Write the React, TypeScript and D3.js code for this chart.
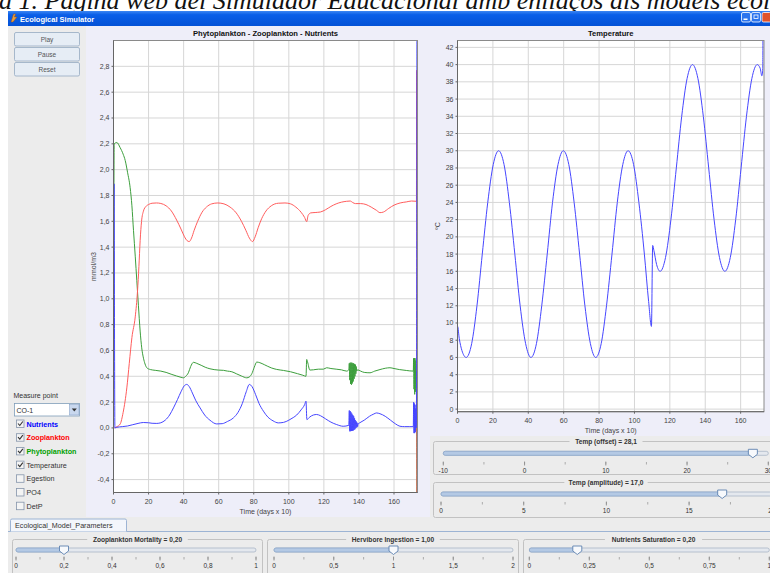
import React, { useMemo } from "react";
import * as d3 from "d3";

type Pt = [number, number];

// ---- data (time in days x 10) ----
const nutrients: Pt[] = [
  [0, 0.0], [0.3, 1.89], [0.8, 0.0], [1.9, 0.005], [5, 0.01], [8, 0.015], [11, 0.025], [14, 0.035],
  [17, 0.042], [20, 0.04], [22, 0.036], [24.7, 0.035], [27, 0.04], [29.5, 0.06], [32, 0.1], [34.2, 0.155],
  [36.5, 0.22], [38.5, 0.28], [40.3, 0.325], [41.8, 0.337], [43.2, 0.32], [45, 0.27], [47, 0.21],
  [49.4, 0.155], [52, 0.1], [55, 0.06], [58.9, 0.031], [62, 0.033], [65, 0.05], [68.4, 0.078], [71, 0.12],
  [73.5, 0.19], [75.7, 0.28], [77.5, 0.337], [79, 0.32], [81, 0.26], [83, 0.19], [85.5, 0.13], [88, 0.085],
  [91, 0.055], [94, 0.039], [97, 0.043], [100, 0.06], [102.5, 0.08], [104.5, 0.1], [107, 0.14], [109, 0.18],
  [109.8, 0.207], [110.3, 0.065], [112, 0.085], [114, 0.1], [115.9, 0.104], [118, 0.095], [121, 0.07],
  [124, 0.045], [127.3, 0.026], [131, 0.013], [134.2, 0.02],
  [134.5, 0.135], [134.75, -0.026], [135.0, 0.13], [135.25, -0.025], [135.5, 0.12], [135.75, -0.024],
  [136.0, 0.11], [136.25, -0.022], [136.5, 0.1], [136.75, -0.02], [137.0, 0.09], [137.25, -0.015],
  [137.5, 0.075], [137.75, -0.01], [138.0, 0.06], [138.25, 0.0], [138.5, 0.05], [138.75, 0.005],
  [139.0, 0.04], [139.25, 0.01], [139.5, 0.03],
  [140.5, 0.04], [143, 0.06], [146, 0.09], [148.5, 0.108], [150, 0.116], [152, 0.11], [155, 0.09],
  [158, 0.06], [161, 0.03], [163.4, 0.013], [166, 0.01], [169, 0.01], [171.0, 0.01],
  [171.2, 0.2], [171.4, -0.04], [171.6, 0.19], [171.8, -0.04], [172.0, 0.18], [172.2, -0.03],
  [172.4, 0.15], [172.6, 0.0], [172.8, 0.02], [173.2, 3.0], [173.4, -0.5],
];

const zooplankton: Pt[] = [
  [0.5, 0.0], [2, 0.01], [3.8, 0.03], [5.5, 0.12], [7.6, 0.31], [9, 0.5], [10.5, 0.7], [12.4, 0.86],
  [13.7, 1.06], [14.5, 1.25], [15.2, 1.45], [16, 1.6], [17.1, 1.68], [18.5, 1.715], [20, 1.73], [22, 1.74],
  [24.5, 1.742], [27, 1.738], [30, 1.72], [33, 1.68], [36, 1.61], [38.5, 1.54], [40.5, 1.48], [42, 1.45],
  [43.2, 1.443], [44.5, 1.47], [46, 1.53], [48, 1.6], [50.5, 1.67], [53, 1.71], [56, 1.735], [59.5, 1.742],
  [63, 1.735], [66.5, 1.71], [70, 1.665], [73, 1.6], [75.5, 1.53], [77.5, 1.47], [79.3, 1.443], [80.8, 1.48],
  [82.5, 1.55], [84.5, 1.62], [87, 1.68], [90, 1.72], [94, 1.74], [97.8, 1.742], [101, 1.735], [104, 1.71],
  [107, 1.67], [109, 1.63], [110.2, 1.597], [111, 1.645], [112.5, 1.665], [115, 1.668], [118, 1.672],
  [121, 1.69], [124, 1.715], [127, 1.735], [130, 1.748], [133, 1.755], [135, 1.757], [136.5, 1.745],
  [138, 1.737], [141, 1.737], [144, 1.73], [147, 1.71], [150, 1.685], [152, 1.667], [154, 1.672],
  [157, 1.7], [160, 1.725], [163.5, 1.742], [167, 1.75], [170, 1.757], [172.8, 1.755], [172.9, 2.77],
  [173.05, -0.5],
];

const phytoplankton: Pt[] = [
  [0, 0.31], [0.4, 2.2], [1.9, 2.21], [3.8, 2.17], [5.5, 2.12], [6.7, 2.07], [8, 1.98], [9.5, 1.86],
  [10.5, 1.72], [11.4, 1.53], [12.4, 1.33], [13.3, 1.14], [14.2, 0.95], [15.2, 0.75], [16.1, 0.62],
  [17.1, 0.54], [18, 0.495], [19, 0.466], [21, 0.452], [23.8, 0.446], [27, 0.44], [30, 0.43], [33.3, 0.414],
  [36, 0.402], [38.5, 0.392], [39.9, 0.388], [41.2, 0.4], [42.7, 0.427], [44, 0.475], [45.6, 0.508],
  [47.5, 0.5], [50, 0.485], [52.3, 0.47], [55, 0.458], [59.8, 0.448], [62.7, 0.446], [65, 0.44],
  [67.5, 0.435], [70, 0.42], [73, 0.402], [76, 0.388], [77.5, 0.395], [78.9, 0.42], [80.3, 0.47],
  [81.7, 0.51], [83.5, 0.505], [86, 0.49], [90, 0.465], [93.1, 0.453], [97, 0.445], [101, 0.435],
  [105, 0.42], [108, 0.408], [109.8, 0.4], [110.2, 0.53], [110.7, 0.51], [112, 0.448], [114, 0.45],
  [117, 0.455], [119.7, 0.455], [121.6, 0.466], [124, 0.46], [127, 0.455], [130, 0.45], [133, 0.44],
  [134.2, 0.45],
  [134.5, 0.5], [134.75, 0.37], [135.0, 0.505], [135.25, 0.34], [135.5, 0.505], [135.75, 0.335],
  [136.0, 0.505], [136.25, 0.345], [136.5, 0.5], [136.75, 0.36], [137.0, 0.5], [137.25, 0.38],
  [137.5, 0.495], [137.75, 0.4], [138.0, 0.49], [138.25, 0.42], [138.5, 0.475], [138.75, 0.44],
  [139.2, 0.45], [141, 0.44], [143, 0.43], [146.3, 0.427], [149, 0.44], [152, 0.452], [155, 0.462],
  [157.7, 0.466], [160, 0.46], [163, 0.452], [167, 0.445], [171.0, 0.44],
  [171.2, 0.54], [171.4, 0.3], [171.6, 0.54], [171.8, 0.26], [172.0, 0.54], [172.2, 0.28],
  [172.4, 0.52], [172.6, 0.35], [172.8, 0.45], [173.0, -0.5],
];

const temperature: Pt[] = [
  [0, 0], [0.05, 9.6], [1, 8.2], [2.5, 6.8], [4.9, 6.0], [8, 7.6], [11, 12], [14, 18], [17.1, 24],
  [20.2, 28.4], [23.2, 30], [26.3, 28.4], [29.3, 24], [32.4, 18], [35.4, 12], [38.5, 7.6], [41.5, 6],
  [44.6, 7.6], [47.6, 12], [50.7, 18], [53.7, 24], [56.8, 28.4], [59.8, 30], [62.9, 28.4], [65.9, 24],
  [69, 18], [72, 12], [75.1, 7.6], [78.1, 6], [81.2, 7.6], [84.2, 12], [87.3, 18], [90.3, 24], [93.4, 28.4],
  [96.4, 30], [99.5, 28.4], [102.5, 24], [105.6, 18], [108, 12.5], [109.6, 9.6], [110.3, 19], [111, 18.4],
  [112.5, 16.8], [114.5, 16], [117.55, 17.6], [120.6, 22], [123.65, 28], [126.7, 34], [129.75, 38.4],
  [132.8, 40], [135.85, 38.4], [138.9, 34], [141.95, 28], [145, 22], [148.05, 17.6], [151.1, 16],
  [154.15, 17.6], [157.2, 22], [160.25, 28], [163.3, 34], [166.35, 38.4], [169.4, 40], [171, 39.6],
  [172, 38.7], [172.5, 39.5], [172.6, 42.8],
];

const timeTicks = [0, 20, 40, 60, 80, 100, 120, 140, 160];
const concTicks = [-0.4, -0.2, 0, 0.2, 0.4, 0.6, 0.8, 1.0, 1.2, 1.4, 1.6, 1.8, 2.0, 2.2, 2.4, 2.6, 2.8];
const tempTicks = [0, 2, 4, 6, 8, 10, 12, 14, 16, 18, 20, 22, 24, 26, 28, 30, 32, 34, 36, 38, 40, 42];

const checkLabels = ["Nutrients", "Zooplankton", "Phytoplankton", "Temperature", "Egestion", "PO4", "DetP"];
const checkedFlags = [true, true, true, true, false, false, false];
const buttonLabels = ["Play", "Pause", "Reset"];

const mortalityTicks = [0, 0.2, 0.4, 0.6, 0.8, 1];
const ingestionTicks = [0, 0.5, 1, 1.5, 2];
const saturationTicks = [0, 0.25, 0.5, 0.75, 1];
const offsetTicks = [-10, 0, 10, 20, 30];
const amplitudeTicks = [0, 5, 10, 15, 20];

const locale = d3.formatLocale({ decimal: ",", thousands: ".", grouping: [3], currency: ["", ""], minus: "-" });
const fmt1 = locale.format(".1f");
const fmtPlain = (v: number) => String(v).replace(".", ",");

const SANS = "'Liberation Sans', Arial, sans-serif";
const AXIS_TXT = "#444";

type SeriesDef = { data: Pt[]; color: string };

function Chart(props: {
  id: string;
  left: number; right: number; top: number; bottom: number;
  xDomain: [number, number]; yDomain: [number, number];
  yTicks: number[]; yFmt: (v: number) => string;
  title: string; yLabel: string; yLabelX: number;
  series: SeriesDef[];
}) {
  const { id, left, right, top, bottom, xDomain, yDomain, yTicks, yFmt, title, yLabel, yLabelX, series } = props;
  const x = d3.scaleLinear().domain(xDomain).range([left, right]);
  const y = d3.scaleLinear().domain(yDomain).range([bottom, top]);
  const line = d3.line<Pt>().x((d) => x(d[0])).y((d) => y(d[1])).curve(d3.curveMonotoneX);
  const cx = (left + right) / 2;
  return (
    <g>
      <text x={cx} y={top - 4.5} textAnchor="middle" fontFamily={SANS} fontWeight="bold" fontSize={7.6} fill="#111">
        {title}
      </text>
      <rect x={left} y={top} width={right - left} height={bottom - top} fill="#fff" />
      <defs>
        <clipPath id={id}>
          <rect x={left} y={top} width={right - left} height={bottom - top} />
        </clipPath>
      </defs>
      {yTicks.map((t) => (
        <line key={"gy" + t} x1={left} x2={right} y1={y(t)} y2={y(t)} stroke="#d6d6d6" strokeWidth={1} />
      ))}
      {timeTicks.map((t) => (
        <line key={"gx" + t} x1={x(t)} x2={x(t)} y1={top} y2={bottom} stroke="#d6d6d6" strokeWidth={1} />
      ))}
      <g clipPath={`url(#${id})`}>
        {series.map((s, i) => (
          <path key={i} d={line(s.data) || ""} fill="none" stroke={s.color} strokeWidth={1} />
        ))}
      </g>
      <rect x={left} y={top} width={right - left} height={bottom - top} fill="none" stroke="#8a8a8a" strokeWidth={1} />
      <line x1={left} x2={left} y1={top} y2={bottom} stroke="#666" />
      <line x1={left} x2={right} y1={bottom} y2={bottom} stroke="#666" />
      {yTicks.map((t) => (
        <g key={"ty" + t}>
          <line x1={left - 2} x2={left} y1={y(t)} y2={y(t)} stroke="#666" />
          <text x={left - 4} y={y(t) + 2.5} textAnchor="end" fontFamily={SANS} fontSize={7} fill={AXIS_TXT}>
            {yFmt(t)}
          </text>
        </g>
      ))}
      {timeTicks.map((t) => (
        <g key={"tx" + t}>
          <line x1={x(t)} x2={x(t)} y1={bottom} y2={bottom + 2} stroke="#666" />
          <text x={x(t)} y={bottom + 11.5} textAnchor="middle" fontFamily={SANS} fontSize={7} fill={AXIS_TXT}>
            {t}
          </text>
        </g>
      ))}
      <text x={cx} y={bottom + 21} textAnchor="middle" fontFamily={SANS} fontSize={7} fill={AXIS_TXT}>
        Time (days x 10)
      </text>
      <text
        transform={`translate(${yLabelX},${(top + bottom) / 2}) rotate(-90)`}
        textAnchor="middle"
        fontFamily={SANS}
        fontSize={7}
        fill={AXIS_TXT}
      >
        {yLabel}
      </text>
    </g>
  );
}

function Slider(props: {
  x: number; y: number; w: number; h: number; title: string;
  domain: [number, number]; range: [number, number]; ticks: number[]; minorStep: number;
  value: number; trackY: number; labelY: number;
}) {
  const { x, y, w, h, title, domain, range, ticks, minorStep, value, trackY, labelY } = props;
  const s = d3.scaleLinear().domain(domain).range(range);
  const minors = d3.range(domain[0], domain[1] + minorStep / 2, minorStep);
  const tx = s(value);
  const titleW = title.length * 3.45 + 4;
  return (
    <g>
      <rect x={x} y={y} width={w} height={h} rx={2} fill="none" stroke="#c2c2c2" />
      <rect x={x + w / 2 - titleW / 2} y={y - 4} width={titleW} height={8} fill="#ececec" />
      <text x={x + w / 2} y={y + 2.5} textAnchor="middle" fontFamily={SANS} fontWeight="bold" fontSize={6.6} fill="#333">
        {title}
      </text>
      <rect x={range[0]} y={trackY - 2} width={range[1] - range[0]} height={4} rx={2} fill="#e4e8ee" stroke="#a9b6c6" strokeWidth={0.8} />
      <rect x={range[0]} y={trackY - 2} width={tx - range[0]} height={4} rx={2} fill="#b4c9e4" stroke="#8ea8cc" strokeWidth={0.8} />
      {minors.map((m) => (
        <line key={"m" + m} x1={s(m)} x2={s(m)} y1={labelY - 10.5} y2={labelY - 8} stroke="#9a9a9a" strokeWidth={0.8} />
      ))}
      {ticks.map((t) => (
        <g key={"t" + t}>
          <line x1={s(t)} x2={s(t)} y1={labelY - 11} y2={labelY - 7} stroke="#8a8a8a" strokeWidth={0.8} />
          <text x={s(t)} y={labelY} textAnchor="middle" fontFamily={SANS} fontSize={6.5} fill="#333">
            {fmtPlain(t)}
          </text>
        </g>
      ))}
      <path
        d={`M${tx - 4.5},${trackY - 4} h9 v5 l-4.5,3.5 l-4.5,-3.5 Z`}
        fill="#f7f9fc"
        stroke="#5f82b0"
        strokeWidth={0.9}
      />
    </g>
  );
}

export default function App() {
  const gradId = "titlebar";
  const series = useMemo(
    () => [
      { data: phytoplankton, color: "#3c9e3c" },
      { data: zooplankton, color: "#ff5c5c" },
      { data: nutrients, color: "#4646ff" },
    ],
    []
  );

  return (
    <svg width={770} height={573} style={{ position: "absolute", left: 0, top: 0 }} xmlns="http://www.w3.org/2000/svg">
      <rect x={0} y={0} width={770} height={573} fill="#fff" />
      {/* caption from the page, cut by the window */}
      <text x={-1} y={8.5} fontFamily="'Liberation Serif', 'Times New Roman', serif" fontStyle="italic" fontSize={26} fill="#111">
        a 1. Pàgina web del Simulador Educacional amb enllaços als models ecològics
      </text>

      {/* window title bar */}
      <defs>
        <linearGradient id={gradId} x1="0" x2="0" y1="0" y2="1">
          <stop offset="0" stopColor="#3d86f2" />
          <stop offset="0.25" stopColor="#0a5fe8" />
          <stop offset="1" stopColor="#0552d6" />
        </linearGradient>
      </defs>
      <rect x={8} y={11} width={762} height={15} fill={`url(#${gradId})`} />
      <path d="M11,22 l2.5,-8 l2,0 l-1,3 l2.5,0 l-4,5 Z" fill="#e8a040" stroke="#a05010" strokeWidth={0.5} />
      <text x={20} y={21.5} fontFamily={SANS} fontWeight="bold" fontSize={7.5} fill="#fff">
        Ecological Simulator
      </text>
      {[741.5, 751.5].map((bx) => (
        <rect key={bx} x={bx} y={12.5} width={9} height={9.5} rx={1.5} fill="#2c74ee" stroke="#fff" strokeWidth={0.8} />
      ))}
      <rect x={743.5} y={18.5} width={4} height={1.5} fill="#fff" />
      <rect x={754} y={15} width={4} height={3.5} fill="none" stroke="#fff" strokeWidth={0.8} />
      <rect x={762} y={12.5} width={9} height={9.5} rx={1.5} fill="#e0542c" stroke="#fff" strokeWidth={0.8} />

      {/* panels */}
      <rect x={8} y={26} width={78} height={491} fill="#ececec" />
      <rect x={86} y={26} width={684} height={491} fill="#eeeef9" />
      <rect x={430} y={436} width={340} height={81} fill="#ececec" />
      <rect x={8} y={517} width={762} height={56} fill="#ececec" />

      {/* left controls */}
      {buttonLabels.map((b, i) => (
        <g key={b}>
          <rect x={14.5} y={32.5 + i * 15} width={65} height={13.5} rx={1.5} fill="#e6edf5" stroke="#94a9c2" strokeWidth={0.8} />
          <text x={47} y={41.5 + i * 15} textAnchor="middle" fontFamily={SANS} fontSize={6.5} fill="#555">
            {b}
          </text>
        </g>
      ))}
      <text x={13.5} y={398} fontFamily={SANS} fontSize={7} fill="#333">
        Measure point
      </text>
      <rect x={14.5} y={403.5} width={65} height={12.5} fill="#fff" stroke="#7f9db9" strokeWidth={0.8} />
      <text x={16.5} y={412.5} fontFamily={SANS} fontSize={7} fill="#333">
        CO-1
      </text>
      <rect x={69.5} y={404.5} width={9.5} height={10.5} fill="#c9d8ee" stroke="#8aa6cc" strokeWidth={0.6} />
      <path d="M71.8,408.5 h5 l-2.5,3 Z" fill="#333" />
      {checkLabels.map((c, i) => {
        const cy = 424 + i * 13.7;
        const styles = [
          { fill: "#0000ff", bold: true },
          { fill: "#ff0000", bold: true },
          { fill: "#00a000", bold: true },
        ];
        const st = styles[i] || { fill: "#333", bold: false };
        return (
          <g key={c}>
            <rect x={16.5} y={cy - 4} width={7.5} height={7.5} fill="#f4f4f4" stroke="#8595ab" strokeWidth={0.8} />
            {checkedFlags[i] && (
              <path d={`M18,${cy - 0.5} l1.8,2 l3,-4`} fill="none" stroke="#333" strokeWidth={1.1} />
            )}
            <text x={26.5} y={cy + 2.5} fontFamily={SANS} fontWeight={st.bold ? "bold" : "normal"} fontSize={7.2} fill={st.fill}>
              {c}
            </text>
          </g>
        );
      })}

      {/* charts */}
      <Chart
        id="clipLeft"
        left={113.5}
        right={417.5}
        top={40.5}
        bottom={492.5}
        xDomain={[0, 173.4]}
        yDomain={[-0.5, 3.0]}
        yTicks={concTicks}
        yFmt={(v) => fmt1(v)}
        title="Phytoplankton - Zooplankton - Nutrients"
        yLabel="mmol/m3"
        yLabelX={95.5}
        series={series}
      />
      <Chart
        id="clipRight"
        left={457.5}
        right={764}
        top={40.5}
        bottom={411.7}
        xDomain={[0, 173.2]}
        yDomain={[-0.3, 42.8]}
        yTicks={tempTicks}
        yFmt={(v) => String(v)}
        title="Temperature"
        yLabel="ºC"
        yLabelX={440}
        series={[{ data: temperature, color: "#4646ff" }]}
      />

      {/* temperature sliders */}
      <Slider x={433.5} y={441.5} w={345} h={33} title="Temp (offset) = 28,1" domain={[-10, 30]} range={[443.3, 768.3]}
        ticks={offsetTicks} minorStep={5} value={28.1} trackY={453.3} labelY={472.5} />
      <Slider x={433.5} y={482.5} w={345} h={35} title="Temp (amplitude) = 17,0" domain={[0, 20]} range={[441, 771.8]}
        ticks={amplitudeTicks} minorStep={2.5} value={17} trackY={494} labelY={512.5} />

      {/* parameters tab */}
      <line x1={8} x2={770} y1={531.5} y2={531.5} stroke="#9db4d4" />
      <path d="M10.5,531.5 V520.5 q0,-1.5 1.5,-1.5 H125 q1.5,0 1.5,1.5 V531.5" fill="#f3f6fb" stroke="#9db4d4" />
      <text x={15} y={528} fontFamily={SANS} fontSize={7.2} fill="#333">
        Ecological_Model_Parameters
      </text>
      <Slider x={12.5} y={539.5} w={250} h={40} title="Zooplankton Mortality = 0,20" domain={[0, 1]} range={[16, 256]}
        ticks={mortalityTicks} minorStep={0.1} value={0.2} trackY={550} labelY={567.5} />
      <Slider x={267.5} y={539.5} w={251} h={40} title="Hervibore Ingestion = 1,00" domain={[0, 2]} range={[274, 513]}
        ticks={ingestionTicks} minorStep={0.25} value={1} trackY={550} labelY={567.5} />
      <Slider x={523.5} y={539.5} w={260} h={40} title="Nutrients Saturation = 0,20" domain={[0, 1]} range={[529.3, 769.3]}
        ticks={saturationTicks} minorStep={0.125} value={0.2} trackY={550} labelY={567.5} />
    </svg>
  );
}
